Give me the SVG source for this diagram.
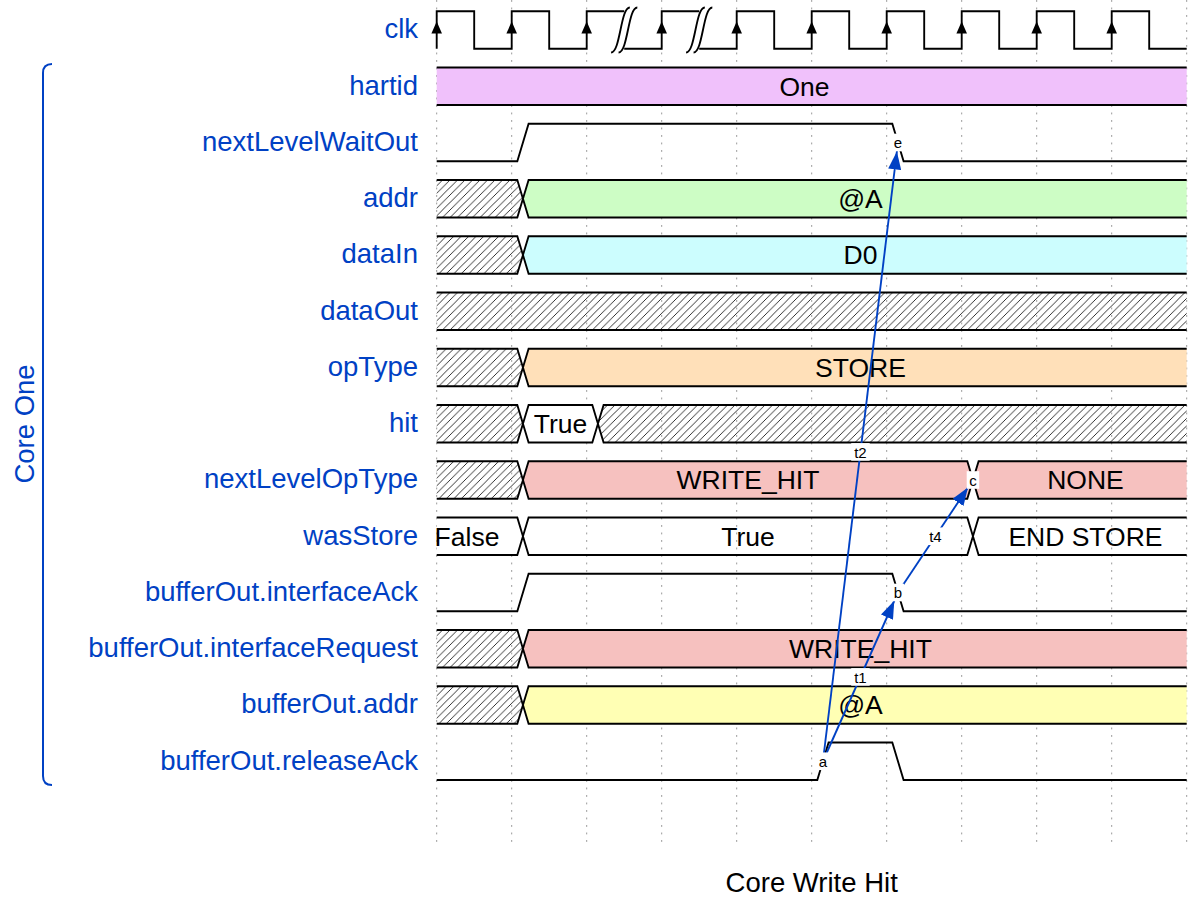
<svg xmlns="http://www.w3.org/2000/svg" xmlns:xlink="http://www.w3.org/1999/xlink" width="1193" height="908" viewBox="0 0 1193 908">
<style>
.name{font-family:"Liberation Sans",Arial,sans-serif;font-size:27.5px;fill:#0041c4;text-anchor:end}
.dl{font-family:"Liberation Sans",Arial,sans-serif;font-size:26.5px;fill:#000;text-anchor:middle}
.w{fill:none;stroke:#000;stroke-width:1.875;stroke-linejoin:miter}
.grid{stroke:#999;stroke-width:1;stroke-dasharray:1.875,5.625}
.hatch{fill:url(#hatch);stroke:none}
.edge{fill:none;stroke:#0041c4;stroke-width:1.875;marker-end:url(#arrowhead)}
.elbg{fill:#fff}
.el{font-family:"Liberation Sans",Arial,sans-serif;font-size:15px;fill:#000;text-anchor:middle}
</style>
<defs>
<pattern id="hatch" patternUnits="userSpaceOnUse" width="7.5" height="7.5">
<path d="M-1.875,1.875 L1.875,-1.875 M0,7.5 L7.5,0 M5.625,9.375 L9.375,5.625" stroke="#000" stroke-width="0.8"/>
</pattern>
<marker id="arrowhead" markerUnits="userSpaceOnUse" viewBox="0 -4 11 8" markerWidth="18" markerHeight="13.1" refX="16.5" refY="0" orient="auto">
<path d="M0,-4 L11,0 L0,4 Z" fill="#0041c4"/>
</marker>
<path id="clkArrow" d="M0,21.6 L-5.3,33.4 L5.3,33.4 Z" fill="#000"/>
<g id="gap">
<path d="m 7,-2 -4,0 c -5,0 -5,24 -10,24 l 4,0 C 2,22 2,-2 7,-2 z" fill="#fff" stroke="none"/>
<path d="M -7,22 C -2,22 -2,-2 3,-2" fill="none" stroke="#000" stroke-width="1"/>
<path d="M -3,22 C 2,22 2,-2 7,-2" fill="none" stroke="#000" stroke-width="1"/>
</g>
</defs>
<rect width="1193" height="908" fill="#fff"/>

<g id="gridlines">
<path class="grid" d="M436.7,0 V844 M511.7,0 V844 M586.7,0 V844 M661.7,0 V844 M736.7,0 V844 M811.7,0 V844 M886.7,0 V844 M961.7,0 V844 M1036.7,0 V844 M1111.7,0 V844 M1186.7,0 V844"/>
</g>

<g id="group-core-one">
<path d="M52,64 Q43,64 43,73 V776 Q43,785 52,785" fill="none" stroke="#0041c4" stroke-width="2"/>
<text transform="translate(33.5,424) rotate(-90)" style="font-family:'Liberation Sans',Arial,sans-serif;font-size:27.5px;fill:#0041c4;text-anchor:middle">Core One</text>
</g>

<g id="clk">
<text class="name" x="418" y="38.3">clk</text>
<path class="w" d="M436.7,48.75 V11.25 H474.2 V48.75 H511.7 V11.25 H549.2 V48.75 H586.7 V11.25 H624.2 M624.2,48.75 H661.7 V11.25 H699.2 M699.2,48.75 H736.7 V11.25 H774.2 V48.75 H811.7 V11.25 H849.2 V48.75 H886.7 V11.25 H924.2 V48.75 H961.7 V11.25 H999.2 V48.75 H1036.7 V11.25 H1074.2 V48.75 H1111.7 V11.25 H1149.2 V48.75 H1186.7"/>
<use xlink:href="#clkArrow" x="436.7"/>
<use xlink:href="#clkArrow" x="511.7"/>
<use xlink:href="#clkArrow" x="586.7"/>
<use xlink:href="#clkArrow" x="661.7"/>
<use xlink:href="#clkArrow" x="736.7"/>
<use xlink:href="#clkArrow" x="811.7"/>
<use xlink:href="#clkArrow" x="886.7"/>
<use xlink:href="#clkArrow" x="961.7"/>
<use xlink:href="#clkArrow" x="1036.7"/>
<use xlink:href="#clkArrow" x="1111.7"/>
<use xlink:href="#gap" transform="translate(624.2,11.25) scale(1.875)"/>
<use xlink:href="#gap" transform="translate(699.2,11.25) scale(1.875)"/>
</g>

<g id="hartid">
<text class="name" x="418" y="94.55">hartid</text>
<rect x="436.7" y="67.5" width="750" height="37.5" fill="#f0c1fb"/>
<path class="w" d="M436.7,67.5 H1186.7 M436.7,105 H1186.7"/>
<text class="dl" x="804.5" y="95.55">One</text>
</g>

<g id="nextLevelWaitOut">
<text class="name" x="418" y="150.8">nextLevelWaitOut</text>
<path class="w" d="M436.7,161.25 H517.3 L528.6,123.75 H892.3 L903.6,161.25 H1186.7"/>
</g>

<g id="addr">
<text class="name" x="418" y="207.05">addr</text>
<polygon class="hatch" points="436.7,180 517.3,180 522.95,198.75 517.3,217.5 436.7,217.5"/>
<polygon points="1186.7,180 528.6,180 522.95,198.75 528.6,217.5 1186.7,217.5" fill="#cdfdc5"/>
<path class="w" d="M436.7,180 H517.3 L522.95,198.75 L517.3,217.5 H436.7 M1186.7,180 H528.6 L522.95,198.75 L528.6,217.5 H1186.7"/>
<text class="dl" x="860.45" y="208.05">@A</text>
</g>

<g id="dataIn">
<text class="name" x="418" y="263.3">dataIn</text>
<polygon class="hatch" points="436.7,236.25 517.3,236.25 522.95,255 517.3,273.75 436.7,273.75"/>
<polygon points="1186.7,236.25 528.6,236.25 522.95,255 528.6,273.75 1186.7,273.75" fill="#ccfdfe"/>
<path class="w" d="M436.7,236.25 H517.3 L522.95,255 L517.3,273.75 H436.7 M1186.7,236.25 H528.6 L522.95,255 L528.6,273.75 H1186.7"/>
<text class="dl" x="860.45" y="264.3">D0</text>
</g>

<g id="dataOut">
<text class="name" x="418" y="319.55">dataOut</text>
<rect class="hatch" x="436.7" y="292.5" width="750" height="37.5"/>
<path class="w" d="M436.7,292.5 H1186.7 M436.7,330 H1186.7"/>
</g>

<g id="opType">
<text class="name" x="418" y="375.8">opType</text>
<polygon class="hatch" points="436.7,348.75 517.3,348.75 522.95,367.5 517.3,386.25 436.7,386.25"/>
<polygon points="1186.7,348.75 528.6,348.75 522.95,367.5 528.6,386.25 1186.7,386.25" fill="#ffe0b9"/>
<path class="w" d="M436.7,348.75 H517.3 L522.95,367.5 L517.3,386.25 H436.7 M1186.7,348.75 H528.6 L522.95,367.5 L528.6,386.25 H1186.7"/>
<text class="dl" x="860.45" y="376.8">STORE</text>
</g>

<g id="hit">
<text class="name" x="418" y="432.05">hit</text>
<polygon class="hatch" points="436.7,405 517.3,405 522.95,423.75 517.3,442.5 436.7,442.5"/>
<polygon points="528.6,405 592.3,405 597.95,423.75 592.3,442.5 528.6,442.5 522.95,423.75" fill="#fff"/>
<polygon class="hatch" points="1186.7,405 603.6,405 597.95,423.75 603.6,442.5 1186.7,442.5"/>
<path class="w" d="M436.7,405 H517.3 L522.95,423.75 L517.3,442.5 H436.7 M528.6,405 H592.3 L597.95,423.75 L592.3,442.5 H528.6 L522.95,423.75 Z M1186.7,405 H603.6 L597.95,423.75 L603.6,442.5 H1186.7"/>
<text class="dl" x="560.45" y="433.05">True</text>
</g>

<g id="nextLevelOpType">
<text class="name" x="418" y="488.3">nextLevelOpType</text>
<polygon class="hatch" points="436.7,461.25 517.3,461.25 522.95,480 517.3,498.75 436.7,498.75"/>
<polygon points="528.6,461.25 967.3,461.25 972.95,480 967.3,498.75 528.6,498.75 522.95,480" fill="#f6c1bf"/>
<polygon points="1186.7,461.25 978.6,461.25 972.95,480 978.6,498.75 1186.7,498.75" fill="#f6c1bf"/>
<path class="w" d="M436.7,461.25 H517.3 L522.95,480 L517.3,498.75 H436.7 M528.6,461.25 H967.3 L972.95,480 L967.3,498.75 H528.6 L522.95,480 Z M1186.7,461.25 H978.6 L972.95,480 L978.6,498.75 H1186.7"/>
<text class="dl" x="748" y="489.3">WRITE_HIT</text>
<text class="dl" x="1085.45" y="489.3">NONE</text>
</g>

<g id="wasStore">
<text class="name" x="418" y="544.55">wasStore</text>
<polygon points="436.7,517.5 517.3,517.5 522.95,536.25 517.3,555 436.7,555" fill="#fff"/>
<path class="w" d="M436.7,517.5 H517.3 L522.95,536.25 L517.3,555 H436.7 M528.6,517.5 H967.3 L972.95,536.25 L967.3,555 H528.6 L522.95,536.25 Z M1186.7,517.5 H978.6 L972.95,536.25 L978.6,555 H1186.7"/>
<text class="dl" x="467" y="545.55">False</text>
<text class="dl" x="748" y="545.55">True</text>
<text class="dl" x="1085.45" y="545.55">END STORE</text>
</g>

<g id="bufferOut.interfaceAck">
<text class="name" x="418" y="600.8">bufferOut.interfaceAck</text>
<path class="w" d="M436.7,611.25 H517.3 L528.6,573.75 H892.3 L903.6,611.25 H1186.7"/>
</g>

<g id="bufferOut.interfaceRequest">
<text class="name" x="418" y="657.05">bufferOut.interfaceRequest</text>
<polygon class="hatch" points="436.7,630 517.3,630 522.95,648.75 517.3,667.5 436.7,667.5"/>
<polygon points="1186.7,630 528.6,630 522.95,648.75 528.6,667.5 1186.7,667.5" fill="#f6c1bf"/>
<path class="w" d="M436.7,630 H517.3 L522.95,648.75 L517.3,667.5 H436.7 M1186.7,630 H528.6 L522.95,648.75 L528.6,667.5 H1186.7"/>
<text class="dl" x="860.45" y="658.05">WRITE_HIT</text>
</g>

<g id="bufferOut.addr">
<text class="name" x="418" y="713.3">bufferOut.addr</text>
<polygon class="hatch" points="436.7,686.25 517.3,686.25 522.95,705 517.3,723.75 436.7,723.75"/>
<polygon points="1186.7,686.25 528.6,686.25 522.95,705 528.6,723.75 1186.7,723.75" fill="#ffffb4"/>
<path class="w" d="M436.7,686.25 H517.3 L522.95,705 L517.3,723.75 H436.7 M1186.7,686.25 H528.6 L522.95,705 L528.6,723.75 H1186.7"/>
<text class="dl" x="860.45" y="714.3">@A</text>
</g>

<g id="bufferOut.releaseAck">
<text class="name" x="418" y="769.55">bufferOut.releaseAck</text>
<path class="w" d="M436.7,780 H817.3 L828.6,742.5 H892.3 L903.6,780 H1186.7"/>
</g>

<g id="connectors">
<path class="edge" d="M822.95,761.25 L897.95,142.5"/>
<path class="edge" d="M822.95,761.25 L897.95,592.5"/>
<path class="edge" d="M897.95,592.5 L972.95,480"/>
</g>

<g id="edge-labels">
<rect class="elbg" x="851.2" y="443.1" width="18.5" height="17.6"/>
<text class="el" x="860.45" y="457.6">t2</text>
<rect class="elbg" x="851.2" y="668.1" width="18.5" height="17.6"/>
<text class="el" x="860.45" y="682.6">t1</text>
<rect class="elbg" x="926.2" y="527.45" width="18.5" height="17.6"/>
<text class="el" x="935.45" y="541.95">t4</text>
</g>

<g id="node-a">
<rect class="elbg" x="816.7" y="752.45" width="12.5" height="17.6"/>
<text class="el" x="822.95" y="766.75">a</text>
</g>
<g id="node-b">
<rect class="elbg" x="891.7" y="583.7" width="12.5" height="17.6"/>
<text class="el" x="897.95" y="598">b</text>
</g>
<g id="node-c">
<rect class="elbg" x="966.7" y="471.2" width="12.5" height="17.6"/>
<text class="el" x="972.95" y="485.5">c</text>
</g>
<g id="node-e">
<rect class="elbg" x="891.7" y="133.7" width="12.5" height="17.6"/>
<text class="el" x="897.95" y="148">e</text>
</g>

<g id="title">
<text x="811.7" y="892" style="font-family:'Liberation Sans',Arial,sans-serif;font-size:27.5px;fill:#000;text-anchor:middle">Core Write Hit</text>
</g>
</svg>
